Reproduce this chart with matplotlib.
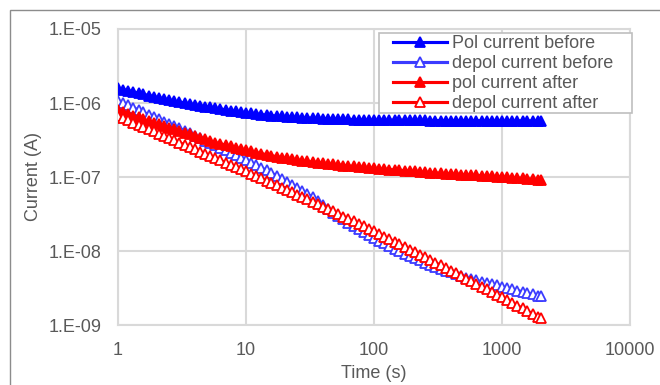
import matplotlib
matplotlib.use("Agg")
import matplotlib.pyplot as plt
from matplotlib.patches import Rectangle
from matplotlib.ticker import FixedLocator, FixedFormatter, NullLocator

plt.rcParams['font.family'] = ['Liberation Sans', 'DejaVu Sans']

# Measurement times (s)
times = [1.00, 1.10, 1.20, 1.32, 1.45, 1.58, 1.74, 1.91, 2.09, 2.29, 2.51, 2.75, 3.02,
         3.31, 3.63, 3.98, 4.37, 4.79, 5.25, 5.75, 6.31, 6.92, 7.59, 8.32, 9.12,
         10.0, 11.0, 12.0, 13.2, 14.5, 15.8, 17.4, 19.1, 20.9, 22.9, 25.1, 27.5, 30.2,
         33.1, 36.3, 39.8, 43.7, 47.9, 52.5, 57.5, 63.1, 69.2, 75.9, 83.2, 91.2,
         100, 110, 120, 132, 145, 158, 174, 191, 209, 229, 251, 275, 302,
         331, 363, 398, 437, 479, 525, 575, 631, 692, 759, 832, 912,
         1000, 1100, 1200, 1320, 1450, 1580, 1740, 1910, 2000]

# Currents (A)
pol_before = [1.58e-6, 1.52e-6, 1.47e-6, 1.41e-6, 1.36e-6, 1.31e-6, 1.26e-6, 1.22e-6, 1.17e-6,
              1.14e-6, 1.10e-6, 1.06e-6, 1.03e-6, 1.00e-6, 9.73e-7, 9.46e-7, 9.20e-7, 8.95e-7,
              8.71e-7, 8.49e-7, 8.30e-7, 8.09e-7, 7.91e-7, 7.71e-7, 7.53e-7,
              7.36e-7, 7.23e-7, 7.10e-7, 6.98e-7, 6.87e-7, 6.76e-7, 6.67e-7, 6.59e-7, 6.52e-7,
              6.46e-7, 6.40e-7, 6.34e-7, 6.28e-7, 6.24e-7, 6.19e-7, 6.15e-7, 6.12e-7, 6.08e-7,
              6.05e-7, 6.03e-7, 6.00e-7, 5.97e-7, 5.94e-7, 5.93e-7, 5.90e-7,
              5.89e-7, 5.88e-7, 5.87e-7, 5.86e-7, 5.85e-7, 5.84e-7, 5.84e-7, 5.83e-7, 5.82e-7,
              5.81e-7, 5.81e-7, 5.80e-7, 5.80e-7, 5.79e-7, 5.79e-7, 5.78e-7, 5.78e-7, 5.78e-7,
              5.77e-7, 5.77e-7, 5.77e-7, 5.76e-7, 5.76e-7, 5.76e-7, 5.75e-7,
              5.75e-7, 5.75e-7, 5.74e-7, 5.74e-7, 5.74e-7, 5.73e-7, 5.73e-7, 5.73e-7, 5.72e-7]

depol_before = [1.07e-6, 9.98e-7, 9.29e-7, 8.63e-7, 8.04e-7, 7.48e-7, 6.97e-7, 6.49e-7, 6.03e-7,
                5.61e-7, 5.22e-7, 4.86e-7, 4.53e-7, 4.21e-7, 3.90e-7, 3.61e-7, 3.36e-7, 3.11e-7,
                2.88e-7, 2.67e-7, 2.48e-7, 2.30e-7, 2.13e-7, 1.98e-7, 1.83e-7,
                1.70e-7, 1.57e-7, 1.45e-7, 1.33e-7, 1.23e-7, 1.13e-7, 1.04e-7, 9.51e-8, 8.65e-8,
                7.85e-8, 7.13e-8, 6.49e-8, 5.89e-8, 5.30e-8, 4.71e-8, 4.19e-8, 3.72e-8, 3.31e-8,
                2.94e-8, 2.67e-8, 2.42e-8, 2.20e-8, 2.00e-8, 1.82e-8, 1.65e-8,
                1.50e-8, 1.38e-8, 1.27e-8, 1.17e-8, 1.08e-8, 1.00e-8, 9.23e-9, 8.57e-9, 8.02e-9,
                7.48e-9, 6.98e-9, 6.53e-9, 6.10e-9, 5.75e-9, 5.45e-9, 5.15e-9, 4.88e-9, 4.61e-9,
                4.37e-9, 4.16e-9, 4.00e-9, 3.85e-9, 3.70e-9, 3.56e-9, 3.42e-9,
                3.29e-9, 3.16e-9, 3.03e-9, 2.92e-9, 2.81e-9, 2.69e-9, 2.59e-9, 2.49e-9, 2.44e-9]

pol_after = [7.94e-7, 7.52e-7, 7.11e-7, 6.73e-7, 6.37e-7, 6.03e-7, 5.70e-7, 5.41e-7, 5.14e-7,
             4.88e-7, 4.63e-7, 4.40e-7, 4.18e-7, 3.97e-7, 3.77e-7, 3.58e-7, 3.40e-7, 3.23e-7,
             3.07e-7, 2.92e-7, 2.81e-7, 2.70e-7, 2.59e-7, 2.49e-7, 2.39e-7,
             2.29e-7, 2.22e-7, 2.14e-7, 2.07e-7, 2.00e-7, 1.94e-7, 1.88e-7, 1.83e-7, 1.79e-7,
             1.75e-7, 1.70e-7, 1.66e-7, 1.62e-7, 1.60e-7, 1.57e-7, 1.54e-7, 1.51e-7, 1.48e-7,
             1.46e-7, 1.43e-7, 1.41e-7, 1.39e-7, 1.37e-7, 1.35e-7, 1.33e-7,
             1.31e-7, 1.29e-7, 1.28e-7, 1.26e-7, 1.25e-7, 1.23e-7, 1.22e-7, 1.21e-7, 1.19e-7,
             1.17e-7, 1.16e-7, 1.15e-7, 1.14e-7, 1.12e-7, 1.11e-7, 1.10e-7, 1.09e-7, 1.08e-7,
             1.07e-7, 1.06e-7, 1.05e-7, 1.04e-7, 1.03e-7, 1.02e-7, 1.01e-7,
             1.00e-7, 9.93e-8, 9.80e-8, 9.68e-8, 9.57e-8, 9.44e-8, 9.33e-8, 9.23e-8, 9.12e-8]

depol_after = [6.68e-7, 6.24e-7, 5.82e-7, 5.43e-7, 5.07e-7, 4.73e-7, 4.42e-7, 4.12e-7, 3.85e-7,
               3.59e-7, 3.35e-7, 3.13e-7, 2.92e-7, 2.72e-7, 2.54e-7, 2.37e-7, 2.21e-7, 2.07e-7,
               1.93e-7, 1.80e-7, 1.68e-7, 1.57e-7, 1.46e-7, 1.36e-7, 1.27e-7,
               1.19e-7, 1.11e-7, 1.03e-7, 9.57e-8, 8.91e-8, 8.30e-8, 7.73e-8, 7.19e-8, 6.68e-8,
               6.22e-8, 5.79e-8, 5.40e-8, 5.02e-8, 4.66e-8, 4.32e-8, 3.99e-8, 3.69e-8, 3.42e-8,
               3.16e-8, 2.92e-8, 2.71e-8, 2.51e-8, 2.32e-8, 2.15e-8, 1.99e-8,
               1.84e-8, 1.70e-8, 1.56e-8, 1.44e-8, 1.33e-8, 1.23e-8, 1.13e-8, 1.04e-8, 9.62e-9,
               8.87e-9, 8.18e-9, 7.55e-9, 6.95e-9, 6.40e-9, 5.89e-9, 5.42e-9, 4.99e-9, 4.59e-9,
               4.23e-9, 3.89e-9, 3.58e-9, 3.30e-9, 3.03e-9, 2.79e-9, 2.57e-9,
               2.37e-9, 2.17e-9, 2.00e-9, 1.83e-9, 1.68e-9, 1.54e-9, 1.42e-9, 1.30e-9, 1.24e-9]

series_labels = ["Pol current before", "depol current before", "pol current after", "depol current after"]

x_ticks = [1, 10, 100, 1000, 10000]
x_tick_labels = ["1", "10", "100", "1000", "10000"]
y_ticks = [1e-9, 1e-8, 1e-7, 1e-6, 1e-5]
y_tick_labels = ["1.E-09", "1.E-08", "1.E-07", "1.E-06", "1.E-05"]

W, H = 660, 385
fig = plt.figure(figsize=(W / 100, H / 100), dpi=100)
ax = fig.add_axes([118 / W, 1 - 325 / H, 512 / W, 296 / H])

text_color = "#595959"
grid_color = "#d9d9d9"

styles = [
    dict(color="#0000ff", mfc="#0000ff"),
    dict(color="#3b3bff", mfc="white"),
    dict(color="#ff0000", mfc="#ff0000"),
    dict(color="#ff0000", mfc="white"),
]
handles = []
for ys, lab, st in zip([pol_before, depol_before, pol_after, depol_after], series_labels, styles):
    h, = ax.plot(times, ys, color=st["color"], lw=2.25, marker="^", markersize=6.8,
                 markerfacecolor=st["mfc"], markeredgecolor=st["color"],
                 markeredgewidth=1.3, label=lab, zorder=3)
    handles.append(h)

ax.set_xscale("log")
ax.set_yscale("log")
ax.set_xlim(1, 10000)
ax.set_ylim(1e-9, 1e-5)
ax.xaxis.set_major_locator(FixedLocator(x_ticks))
ax.xaxis.set_major_formatter(FixedFormatter(x_tick_labels))
ax.yaxis.set_major_locator(FixedLocator(y_ticks))
ax.yaxis.set_major_formatter(FixedFormatter(y_tick_labels))
ax.xaxis.set_minor_locator(NullLocator())
ax.yaxis.set_minor_locator(NullLocator())

ax.grid(True, color=grid_color, lw=1.5, zorder=0)
ax.set_axisbelow(True)
for sp in ax.spines.values():
    sp.set_color(grid_color)
    sp.set_linewidth(1.5)
ax.tick_params(length=0, labelsize=13, colors=text_color)
ax.tick_params(axis="x", pad=12)
ax.tick_params(axis="y", pad=12)

ax.set_xlabel("Time (s)", fontsize=13, color=text_color)
ax.set_ylabel("Current (A)", fontsize=13, color=text_color)
ax.xaxis.set_label_coords(0.5, (325 - 373) / 296)
ax.xaxis.label.set_va("center")
ax.yaxis.set_label_coords((33 - 118) / 512, 0.5)
ax.yaxis.label.set_va("center")

# legend frame
fig.add_artist(Rectangle((379 / W, 1 - 113 / H), 253 / W, 80 / H, transform=fig.transFigure,
                         facecolor="white", edgecolor="#bfbfbf", lw=1.2, zorder=1))
leg = fig.legend(handles=handles, loc="upper left", bbox_to_anchor=(393 / W, 1 - 35 / H),
                 bbox_transform=fig.transFigure, frameon=False, borderpad=0, borderaxespad=0,
                 handlelength=3.0, handletextpad=0.28, labelspacing=0.17, fontsize=13,
                 labelcolor=text_color)

# outer chart border
fig.add_artist(Rectangle((10 / W, -0.2), 1.2, 1 - 10 / H + 0.2, transform=fig.transFigure,
                         fill=False, edgecolor="#8c8c8c", lw=1.0, zorder=0))

fig.savefig("out.png", dpi=100)
